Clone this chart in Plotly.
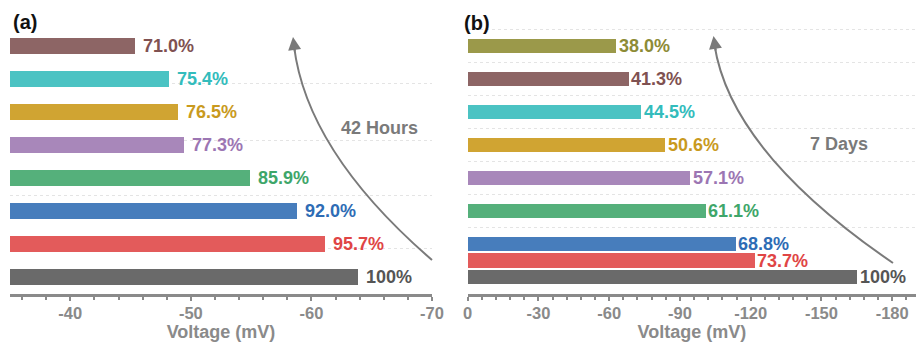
import plotly.graph_objects as go

W, H = 916, 343
FONT = "Liberation Sans, Arial, Helvetica, sans-serif"

# ---- data ----
a_labels = ["100%", "95.7%", "92.0%", "85.9%", "77.3%", "76.5%", "75.4%", "71.0%"]
a_values = [-63.9, -61.15, -58.8, -54.9, -49.4, -48.9, -48.2, -45.4]
a_rows = [0, 1, 2, 3, 4, 5, 6, 7]

b_labels = ["100%", "73.7%", "68.8%", "61.1%", "57.1%", "50.6%", "44.5%", "41.3%", "38.0%"]
b_values = [-165.0, -121.6, -113.5, -100.8, -94.2, -83.5, -73.4, -68.1, -62.7]
b_rows = [0, 0.5, 1, 2, 3, 4, 5, 6, 7]

a_ticks = [-40, -50, -60, -70]
b_ticks = [0, -30, -60, -90, -120, -150, -180]

# ---- styles ----
a_colors = ["#6a6a6a", "#e35b5b", "#477dbc", "#55b07b", "#a887ba", "#d0a432", "#4bc3c3", "#8d6565"]
b_colors = ["#6a6a6a", "#e35b5b", "#477dbc", "#55b07b", "#a887ba", "#d0a432", "#4bc3c3", "#8d6565", "#9b994a"]
a_text_colors = ["#555555", "#e04545", "#2e6cb5", "#3ea66a", "#9c76b3", "#c99a1e", "#33bcbc", "#7f5151"]
b_text_colors = ["#555555", "#e04545", "#2e6cb5", "#3ea66a", "#9c76b3", "#c99a1e", "#33bcbc", "#7f5151", "#8d8b36"]

def X(px):
    return px / W

def Y(py):
    return 1 - py / H

fig = go.Figure()
fig.add_trace(go.Bar(x=a_values, y=a_rows, orientation="h", width=0.5,
                     marker=dict(color=a_colors, line=dict(width=0)),
                     xaxis="x", yaxis="y", showlegend=False, hoverinfo="skip"))
fig.add_trace(go.Bar(x=b_values, y=b_rows, orientation="h", width=0.45,
                     marker=dict(color=b_colors, line=dict(width=0)),
                     xaxis="x2", yaxis="y2", showlegend=False, hoverinfo="skip"))

annotations = []
for v, r, t, c in zip(a_values, a_rows, a_labels, a_text_colors):
    annotations.append(dict(x=v, y=r, xref="x", yref="y", text=t, showarrow=False,
                            xanchor="left", yanchor="middle", xshift=6,
                            font=dict(family=FONT, size=18, color=c, weight="bold")))
for v, r, t, c in zip(b_values, b_rows, b_labels, b_text_colors):
    annotations.append(dict(x=v, y=r, xref="x2", yref="y2", text=t, showarrow=False,
                            xanchor="left", yanchor="middle", xshift=1,
                            font=dict(family=FONT, size=18, color=c, weight="bold")))

# panel letters and annotations text
annotations += [
    dict(x=X(11), y=Y(22), xref="paper", yref="paper", text="(a)", showarrow=False,
         xanchor="left", yanchor="middle", font=dict(family=FONT, size=20, color="#111", weight="bold")),
    dict(x=X(462), y=Y(23), xref="paper", yref="paper", text="(b)", showarrow=False,
         xanchor="left", yanchor="middle", font=dict(family=FONT, size=20, color="#111", weight="bold")),
    dict(x=X(379), y=Y(128), xref="paper", yref="paper", text="42 Hours", showarrow=False,
         xanchor="center", yanchor="middle", font=dict(family=FONT, size=18, color="#7a7a7a", weight="bold")),
    dict(x=X(839), y=Y(144), xref="paper", yref="paper", text="7 Days", showarrow=False,
         xanchor="center", yanchor="middle", font=dict(family=FONT, size=18, color="#7a7a7a", weight="bold")),
    # arrowheads
    dict(x=X(293), y=Y(37), xref="paper", yref="paper", text="", showarrow=True,
         ax=2, ay=16, arrowhead=2, arrowsize=1.3, arrowwidth=2, arrowcolor="#7a7a7a"),
    dict(x=X(713.5), y=Y(36), xref="paper", yref="paper", text="", showarrow=True,
         ax=2.5, ay=16, arrowhead=2, arrowsize=1.3, arrowwidth=2, arrowcolor="#7a7a7a"),
]

shapes = [
    dict(type="path", xref="paper", yref="paper",
         path=f"M {X(432)},{Y(260)} Q {X(307)},{Y(152)} {X(294)},{Y(46)}",
         line=dict(color="#7a7a7a", width=2)),
    dict(type="path", xref="paper", yref="paper",
         path=f"M {X(893)},{Y(263)} Q {X(731)},{Y(152)} {X(714.5)},{Y(45)}",
         line=dict(color="#7a7a7a", width=2)),
]

ydom = [Y(294), Y(20)]
yrange = [-(294 - 277) / 33, (277 - 20) / 33]

axis_common = dict(
    showline=True, linecolor="#8a8a8a", linewidth=2.5,
    ticks="outside", ticklen=4, tickwidth=2, tickcolor="#8a8a8a",
    ticklabelstandoff=-2,
    tickfont=dict(family=FONT, size=16.5, color="#8a8a8a", weight="bold"),
    showgrid=False, zeroline=False, automargin=False,
    title=dict(text="Voltage (mV)", standoff=0,
               font=dict(family=FONT, size=18, color="#8a8a8a", weight="bold")),
    fixedrange=True,
)

fig.update_layout(
    width=W, height=H,
    margin=dict(l=0, r=0, t=0, b=0),
    paper_bgcolor="white", plot_bgcolor="white",
    template=None,
    bargap=0,
    xaxis=dict(domain=[X(10), X(432)], range=[-35, -70], tickvals=a_ticks,
               ticktext=[str(t) for t in a_ticks],
               minor=dict(ticks="outside", ticklen=3, tickwidth=2, tickcolor="#8a8a8a", dtick=2, tick0=0),
               anchor="y", **axis_common),
    xaxis2=dict(domain=[X(467.7), 1.0], range=[0, -190.1], tickvals=b_ticks,
                ticktext=[str(t) for t in b_ticks],
                minor=dict(ticks="outside", ticklen=3, tickwidth=2, tickcolor="#8a8a8a", dtick=6, tick0=0),
                anchor="y2", **axis_common),
    yaxis=dict(domain=ydom, range=yrange, anchor="x", showline=False, showticklabels=False,
               ticks="", tickvals=[0.85, 2.48, 4.15, 5.85], showgrid=True, griddash="dot",
               gridcolor="#e4e4e4", gridwidth=1, zeroline=False, automargin=False),
    yaxis2=dict(domain=ydom, range=yrange, anchor="x2", showline=False, showticklabels=False,
                ticks="", tickvals=[1.5, 2.5, 3.5, 4.5, 5.5, 6.5, 7.5], showgrid=True, griddash="dot",
                gridcolor="#e4e4e4", gridwidth=1, zeroline=False, automargin=False),
    annotations=annotations,
    shapes=shapes,
)

fig.write_html("out.html")
